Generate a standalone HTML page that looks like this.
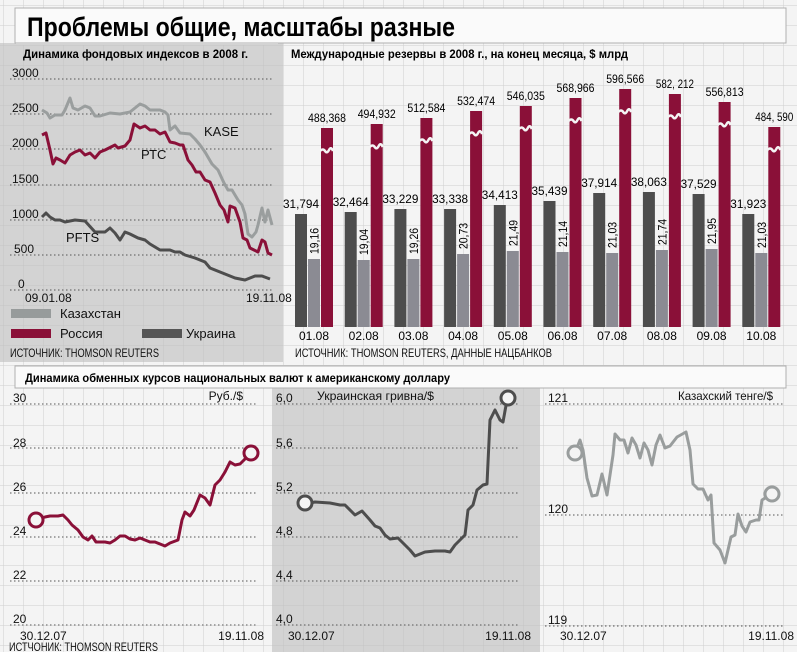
<!DOCTYPE html>
<html><head><meta charset="utf-8"><style>
html,body{margin:0;padding:0;background:#f3f3f3;}
svg{display:block;font-family:"Liberation Sans",sans-serif;}
</style></head><body>
<svg id="s" width="797" height="652" viewBox="0 0 797 652" xmlns="http://www.w3.org/2000/svg">
<defs>
<pattern id="g" x="3" y="5" width="20" height="20" patternUnits="userSpaceOnUse">
<path d="M0 0V20M0 0H20" stroke="#bdbdbd" stroke-width="1" fill="none"/>
</pattern>
</defs>
<rect width="797" height="652" fill="#f4f4f4"/>
<rect x="0" y="43" width="283" height="319" fill="#d3d3d3"/>
<rect x="272" y="388" width="268" height="264" fill="#d3d3d3"/>
<rect width="797" height="652" fill="url(#g)" opacity="0.7"/>
<!-- title box -->
<rect x="15" y="8" width="771" height="35" fill="#fafafa" stroke="#b0b0b0"/>
<rect x="16" y="43" width="262" height="2" fill="#d3d3d3"/>
<text x="27" y="36" font-size="27" font-weight="bold" textLength="428" lengthAdjust="spacingAndGlyphs">Проблемы общие, масштабы разные</text>
<text x="23" y="58" font-size="12" font-weight="bold" textLength="225" lengthAdjust="spacingAndGlyphs">Динамика фондовых индексов в 2008 г.</text>
<text x="291" y="58" font-size="12" font-weight="bold" textLength="337" lengthAdjust="spacingAndGlyphs">Международные резервы в 2008 г., на конец месяца, $ млрд</text>

<!-- stock chart -->
<g stroke="#555" stroke-dasharray="1.5 2.5" stroke-width="1">
<line x1="10" x2="272" y1="79" y2="79"/><line x1="10" x2="272" y1="114" y2="114"/><line x1="10" x2="272" y1="149" y2="149"/><line x1="10" x2="272" y1="185" y2="185"/><line x1="10" x2="272" y1="220" y2="220"/><line x1="10" x2="272" y1="255" y2="255"/><line x1="10" x2="272" y1="290" y2="290"/>
</g>
<g font-size="12" fill="#111">
<text x="12" y="77">3000</text><text x="12" y="112">2500</text><text x="12" y="147">2000</text><text x="12" y="183">1500</text><text x="12" y="218">1000</text><text x="14" y="253">500</text><text x="18" y="288">0</text>
<text x="25" y="302">09.01.08</text><text x="246" y="302">19.11.08</text>
<text x="204" y="136" font-size="13">KASE</text><text x="141" y="159" font-size="13">РТС</text><text x="66" y="242" font-size="13">PFTS</text>
<text x="60" y="318" font-size="13">Казахстан</text><text x="60" y="338" font-size="13">Россия</text><text x="186" y="338" font-size="13">Украина</text>
<text x="10" y="357" font-size="12" textLength="149" lengthAdjust="spacingAndGlyphs">ИСТОЧНИК: THOMSON REUTERS</text>
</g>
<rect x="11" y="309" width="40" height="9" fill="#979b9b"/>
<rect x="11" y="329" width="40" height="9" fill="#8a1038"/>
<rect x="142" y="329" width="40" height="9" fill="#555"/>
<g fill="none" stroke-width="3" stroke-linejoin="round">
<polyline stroke="#9a9e9e" points="42,110 47,113 50,118 55,115 62,115 65,110 70,98 73,108 78,110 85,106 90,108 95,116 100,116 110,113 120,114 130,112 140,104 145,106 150,110 160,110 165,112 168,115 170,130 175,126 180,133 190,134 195,139 200,145 205,152 212,164 218,170 224,183 228,190 232,190 238,200 242,205 245,214 248,234 252,237 256,232 258,225 262,208 265,222 268,210 272,225"/>
<polyline stroke="#8a1038" points="42,135 46,133 50,150 53,164 56,158 60,160 65,163 70,155 75,152 80,150 85,155 90,153 95,158 100,152 105,150 115,145 118,148 125,146 130,140 134,124 140,128 145,126 150,130 155,130 160,134 165,132 170,142 175,143 180,145 183,145 188,160 192,165 196,172 200,172 205,180 210,182 215,193 220,205 224,210 228,222 230,206 235,208 240,222 243,238 247,240 250,248 254,250 258,252 262,240 265,242 268,253 272,255"/>
<polyline stroke="#4d4d4d" points="42,217 46,213 50,217 55,220 60,220 65,222 75,220 85,221 95,232 105,232 110,228 115,233 120,240 125,232 130,234 138,238 145,240 150,244 160,250 170,250 175,252 180,252 185,255 195,258 205,262 210,268 215,270 225,274 235,278 245,280 255,276 262,276 270,279"/>
</g>

<!-- bars -->
<g id="bars"></g>
<g font-size="12" fill="#111">
<text x="295" y="357" font-size="12" textLength="257" lengthAdjust="spacingAndGlyphs">ИСТОЧНИК: THOMSON REUTERS, ДАННЫЕ НАЦБАНКОВ</text>
</g>

<!-- bottom header -->
<rect x="15" y="366" width="771" height="22" fill="#fafafa" stroke="#b0b0b0"/>
<text x="25" y="382" font-size="12" font-weight="bold" textLength="425" lengthAdjust="spacingAndGlyphs">Динамика обменных курсов национальных валют к американскому доллару</text>
<rect x="0" y="388" width="797" height="2" fill="#f4f4f4" opacity="0"/>

<g stroke="#555" stroke-dasharray="1.5 2.5" stroke-width="1">
<line x1="10" x2="258" y1="404" y2="404"/><line x1="10" x2="258" y1="448" y2="448"/><line x1="10" x2="258" y1="493" y2="493"/><line x1="10" x2="258" y1="537" y2="537"/><line x1="10" x2="258" y1="581" y2="581"/><line x1="10" x2="258" y1="625" y2="625"/>
<line x1="276" x2="520" y1="404" y2="404"/><line x1="276" x2="520" y1="448" y2="448"/><line x1="276" x2="520" y1="493" y2="493"/><line x1="276" x2="520" y1="537" y2="537"/><line x1="276" x2="520" y1="581" y2="581"/><line x1="276" x2="520" y1="625" y2="625"/>
<line x1="545" x2="785" y1="404" y2="404"/><line x1="545" x2="785" y1="515" y2="515"/><line x1="545" x2="785" y1="626" y2="626"/>
</g>
<g font-size="12" fill="#111">
<text x="13" y="402">30</text><text x="13" y="447">28</text><text x="13" y="491">26</text><text x="13" y="535">24</text><text x="13" y="579">22</text><text x="13" y="623">20</text>
<text x="243" y="400" text-anchor="end">Руб./$</text>
<text x="20" y="640">30.12.07</text><text x="264" y="640" text-anchor="end">19.11.08</text>
<text x="9" y="651" textLength="149" lengthAdjust="spacingAndGlyphs">ИСТЧОНИК: THOMSON REUTERS</text>
<text x="276" y="402">6,0</text><text x="276" y="447">5,6</text><text x="276" y="491">5,2</text><text x="276" y="535">4,8</text><text x="276" y="579">4,4</text><text x="276" y="623">4,0</text>
<text x="317" y="400" textLength="117" lengthAdjust="spacingAndGlyphs">Украинская гривна/$</text>
<text x="288" y="640">30.12.07</text><text x="531" y="640" text-anchor="end">19.11.08</text>
<text x="548" y="402">121</text><text x="548" y="513">120</text><text x="548" y="624">119</text>
<text x="773" y="400" text-anchor="end" textLength="95" lengthAdjust="spacingAndGlyphs">Казахский тенге/$</text>
<text x="560" y="640">30.12.07</text><text x="794" y="640" text-anchor="end">19.11.08</text>
</g>
<g fill="none" stroke-width="3" stroke-linejoin="round">
<polyline stroke="#8a1038" points="36,520 45,517 50,516 58,516 63,515 68,520 72,525 78,530 83,537 88,540 92,536 96,542 105,542 110,543 115,540 120,536 125,536 130,539 135,540 140,538 145,540 150,542 155,542 160,544 165,546 170,543 178,540 182,520 185,512 190,516 194,510 200,495 205,498 210,505 215,485 220,480 225,472 230,462 235,465 240,464 251,453"/>
<polyline stroke="#4d4d4d" points="305,504 315,502 330,503 340,505 345,505 355,515 362,511 370,520 375,526 380,528 385,535 390,539 398,538 405,545 410,550 415,556 420,554 425,552 435,551 445,551 450,552 455,545 460,540 465,535 468,510 473,505 477,490 483,485 487,484 490,420 495,410 500,420 503,422 507,400"/>
<polyline stroke="#999d9d" points="575,453 580,440 583,450 587,478 592,496 597,495 602,474 607,495 613,455 615,434 620,440 624,440 628,453 632,438 636,445 640,458 644,443 648,450 652,465 656,445 660,435 665,448 670,446 677,437 686,432 690,450 693,484 698,489 703,489 708,500 711,495 714,543 720,550 725,563 731,537 735,535 738,514 742,526 746,532 750,522 756,520 759,520 762,500 772,494"/>
</g>
<circle cx="36" cy="520" r="7" fill="#f4f4f4" stroke="#8a1038" stroke-width="3"/>
<circle cx="251" cy="453" r="7" fill="#f4f4f4" stroke="#8a1038" stroke-width="3"/>
<circle cx="305" cy="503" r="7" fill="#f4f4f4" stroke="#4d4d4d" stroke-width="3"/>
<circle cx="508" cy="398" r="7" fill="#f4f4f4" stroke="#4d4d4d" stroke-width="3"/>
<circle cx="575" cy="453" r="7" fill="#f4f4f4" stroke="#999d9d" stroke-width="3"/>
<circle cx="772" cy="494" r="7" fill="#f4f4f4" stroke="#999d9d" stroke-width="3"/>
</svg>
<script>
(function(){
var NS="http://www.w3.org/2000/svg",g=document.getElementById("bars");
var red=[128,124,118,111,106,98,89,94,102,127],dk=[214,212,209,209,205,201,193,192,194,214],lt=[259,260,259,254,251,252,253,250,249,253];
var rl=["488,368","494,932","512,584","532,474","546,035","568,966","596,566","582, 212","556,813","484, 590"];
var dl=["31,794","32,464","33,229","33,338","34,413","35,439","37,914","38,063","37,529","31,923"];
var ll=["19,16","19,04","19,26","20,73","21,49","21,14","21,03","21,74","21,95","21,03"];
var ml=["01.08","02.08","03.08","04.08","05.08","06.08","07.08","08.08","09.08","10.08"];
function el(t,a,txt){var e=document.createElementNS(NS,t);for(var k in a)e.setAttribute(k,a[k]);if(txt)e.textContent=txt;g.appendChild(e);return e;}
var B=327;
for(var i=0;i<10;i++){
var x=295+49.7*i;
el("rect",{x:x,y:dk[i],width:12,height:B-dk[i],fill:"#4d4d4d"});
el("rect",{x:x+13,y:lt[i],width:12,height:B-lt[i],fill:"#8b8b93"});
el("rect",{x:x+26,y:red[i],width:12,height:B-red[i],fill:"#8a1038"});
var by=red[i]+23;
el("path",{d:"M"+(x+25)+" "+by+" q3 -3 5 0 t4 -1 t4 1",stroke:"#f4f4f4","stroke-width":2.5,fill:"none"});
el("text",{x:x+6,y:dk[i]-6,"font-size":12,"text-anchor":"middle",textLength:36,lengthAdjust:"spacingAndGlyphs"},dl[i]);
el("text",{x:x+32,y:red[i]-6,"font-size":12,"text-anchor":"middle",textLength:38,lengthAdjust:"spacingAndGlyphs"},rl[i]);
el("text",{x:0,y:0,"font-size":12,transform:"translate("+(x+23.5)+","+(lt[i]-5)+") rotate(-90)",textLength:26,lengthAdjust:"spacingAndGlyphs"},ll[i]);
el("text",{x:x+19,y:340,"font-size":12,"text-anchor":"middle"},ml[i]);
}
})();
</script>
</body></html>
